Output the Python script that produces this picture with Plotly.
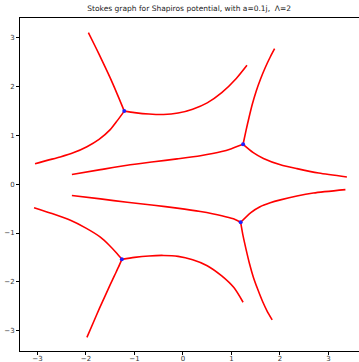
import plotly.graph_objects as go

title = "Stokes graph for Shapiros potential, with a=0.1j,  Λ=2"

# branch (turning) points
turn_x = [-1.21, 1.24, 1.19, -1.26]
turn_y = [1.50, 0.82, -0.78, -1.54]

# Stokes lines
A_up_x = [-1.21, -1.28, -1.36, -1.45, -1.55, -1.66, -1.80, -1.95]
A_up_y = [1.50, 1.67, 1.86, 2.07, 2.29, 2.52, 2.81, 3.11]
A_left_x = [-1.21, -1.35, -1.50, -1.73, -1.98, -2.25, -2.53, -2.80, -3.05]
A_left_y = [1.50, 1.31, 1.12, 0.92, 0.77, 0.65, 0.56, 0.49, 0.42]
A_right_x = [-1.21, -1.0, -0.7, -0.4, -0.1, 0.2, 0.5, 0.8, 1.1, 1.32]
A_right_y = [1.50, 1.47, 1.44, 1.43, 1.46, 1.54, 1.67, 1.88, 2.17, 2.44]

B_up_x = [1.24, 1.30, 1.36, 1.43, 1.51, 1.60, 1.70, 1.80, 1.89]
B_up_y = [0.82, 1.10, 1.36, 1.64, 1.91, 2.16, 2.40, 2.61, 2.78]
B_left_x = [1.24, 1.0, 0.8, 0.36, -0.12, -0.6, -1.15, -1.7, -2.29]
B_left_y = [0.82, 0.73, 0.67, 0.585, 0.52, 0.46, 0.39, 0.30, 0.20]
B_right_x = [1.24, 1.45, 1.66, 2.01, 2.35, 2.8, 3.38]
B_right_y = [0.82, 0.65, 0.53, 0.40, 0.32, 0.23, 0.15]

C_left_x = [1.19, 1.04, 0.8, 0.36, -0.12, -0.6, -1.15, -1.7, -2.29]
C_left_y = [-0.78, -0.71, -0.645, -0.56, -0.49, -0.43, -0.37, -0.30, -0.23]
C_right_x = [1.19, 1.4, 1.59, 1.8, 2.01, 2.35, 2.69, 3.35]
C_right_y = [-0.78, -0.58, -0.46, -0.38, -0.32, -0.24, -0.18, -0.11]
C_down_x = [1.19, 1.24, 1.30, 1.37, 1.45, 1.54, 1.64, 1.74, 1.84]
C_down_y = [-0.78, -1.06, -1.33, -1.62, -1.90, -2.15, -2.40, -2.61, -2.78]

D_left_x = [-1.26, -1.36, -1.52, -1.71, -2.0, -2.32, -2.7, -3.07]
D_left_y = [-1.54, -1.42, -1.25, -1.08, -0.90, -0.74, -0.60, -0.48]
D_down_x = [-1.26, -1.33, -1.41, -1.50, -1.60, -1.72, -1.85, -1.98]
D_down_y = [-1.54, -1.70, -1.87, -2.06, -2.28, -2.54, -2.84, -3.14]
D_right_x = [-1.26, -1.0, -0.7, -0.4, -0.1, 0.2, 0.5, 0.8, 1.05, 1.24]
D_right_y = [-1.54, -1.50, -1.47, -1.46, -1.48, -1.55, -1.67, -1.88, -2.12, -2.42]

curves = [
    (A_up_x, A_up_y), (A_left_x, A_left_y), (A_right_x, A_right_y),
    (B_up_x, B_up_y), (B_left_x, B_left_y), (B_right_x, B_right_y),
    (C_left_x, C_left_y), (C_right_x, C_right_y), (C_down_x, C_down_y),
    (D_left_x, D_left_y), (D_down_x, D_down_y), (D_right_x, D_right_y),
]

x_ticks = [-3, -2, -1, 0, 1, 2, 3]
y_ticks = [-3, -2, -1, 0, 1, 2, 3]

fig = go.Figure()
for cx, cy in curves:
    fig.add_trace(go.Scatter(x=cx, y=cy, mode="lines",
                             line=dict(color="#ff0000", width=1.6, shape="spline", smoothing=0.7),
                             showlegend=False, hoverinfo="skip"))

fig.add_trace(go.Scatter(x=turn_x, y=turn_y, mode="markers",
                         marker=dict(color="#2020ff", size=4),
                         showlegend=False))

fig.update_layout(
    width=359, height=362,
    margin=dict(l=20, r=0, t=18, b=11),
    paper_bgcolor="white", plot_bgcolor="white",
    font=dict(family="DejaVu Sans", size=7, color="#333333"),
    title=dict(text=title, x=0.527, xanchor="center", y=0.978, yanchor="middle",
               font=dict(family="DejaVu Sans", size=7.5, color="#222222")),
)
fig.update_xaxes(range=[-3.36, 3.63], tickvals=x_ticks, showgrid=False, zeroline=False,
                 showline=True, linecolor="black", linewidth=1, mirror=True, automargin=False,
                 ticks="outside", ticklen=3, tickcolor="black", tickfont=dict(size=7),
                 ticklabelstandoff=-2)
fig.update_yaxes(range=[-3.42, 3.41], tickvals=y_ticks, showgrid=False, zeroline=False,
                 showline=True, linecolor="black", linewidth=1, automargin=False,
                 ticks="outside", ticklen=3, tickcolor="black", tickfont=dict(size=7))

fig.write_html("out.html", config={"displayModeBar": False},
               post_script="document.body.style.margin='0';document.body.style.overflow='hidden';")
